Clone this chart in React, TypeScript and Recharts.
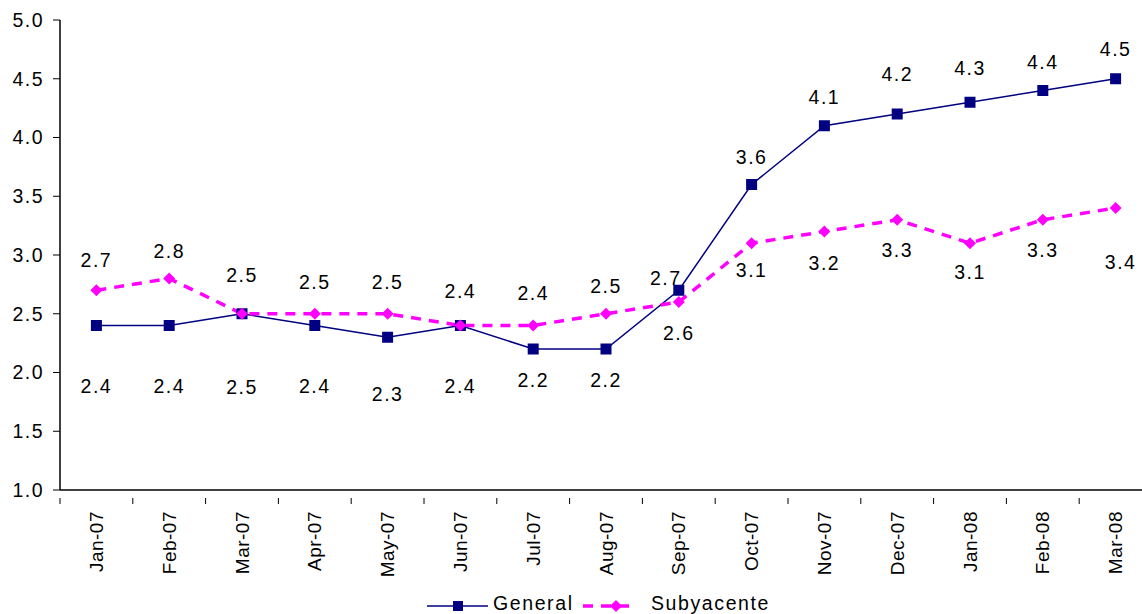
import React from 'react';
import { LineChart, Line, XAxis, YAxis, Legend, LabelList } from 'recharts';

const months = ['Jan-07', 'Feb-07', 'Mar-07', 'Apr-07', 'May-07', 'Jun-07', 'Jul-07', 'Aug-07', 'Sep-07', 'Oct-07', 'Nov-07', 'Dec-07', 'Jan-08', 'Feb-08', 'Mar-08'];
const general = [2.4, 2.4, 2.5, 2.4, 2.3, 2.4, 2.2, 2.2, 2.7, 3.6, 4.1, 4.2, 4.3, 4.4, 4.5];
const subyacente = [2.7, 2.8, 2.5, 2.5, 2.5, 2.4, 2.4, 2.5, 2.6, 3.1, 3.2, 3.3, 3.1, 3.3, 3.4];
const yTicks = [1.0, 1.5, 2.0, 2.5, 3.0, 3.5, 4.0, 4.5, 5.0];

// label offsets, as placed by hand in the original
const generalDy = [60, 60, 73, 60, 57, 60, 31, 31, -12, -28, -29, -40, -34, -29, -30];
const generalDx = [0, 0, 0, 0, 0, 0, 0, 0, -13, 0, 0, 0, 0, 0, 0];
const subDy = [-30, -28, -39, -32, -32, -35, -33, -28, 31, 27, 31, 30, 29, 30, 54];
const subDx = [0, 0, 0, 0, 0, 0, 0, 0, 0, 0, 0, 0, 0, 0, 5];

const NAVY = '#000080';
const PINK = '#FF00FF';
const FONT = 'Liberation Sans, Arial, sans-serif';

const data = months.map((m, i) => ({ month: m, general: general[i], subyacente: subyacente[i] }));

const CHART_W = 1160;
const PLOT_W = 1092;
const STEP = PLOT_W / months.length;

const SquareDot = (props: any) => {
  const { cx, cy } = props;
  if (cx == null || cy == null) return null;
  return <rect x={cx - 5.5} y={cy - 5.5} width={11} height={11} fill={NAVY} />;
};

const DiamondDot = (props: any) => {
  const { cx, cy } = props;
  if (cx == null || cy == null) return null;
  return <polygon points={`${cx},${cy - 6} ${cx + 6},${cy} ${cx},${cy + 6} ${cx - 6},${cy}`} fill={PINK} />;
};

const makeLabel = (dys: number[], dxs: number[]) => (props: any) => {
  const { x, y, value, index } = props;
  return (
    <text
      x={x + dxs[index]}
      y={y + dys[index]}
      textAnchor="middle"
      dominantBaseline="central"
      fontFamily={FONT}
      fontSize={19.5}
      letterSpacing={1.5}
      fill="#000"
    >
      {Number(value).toFixed(1)}
    </text>
  );
};

const MonthTick = (props: any) => {
  const { x, y, payload } = props;
  return (
    <g>
      <line x1={x - STEP / 2} y1={y} x2={x - STEP / 2} y2={y + 6} stroke="#000" />
      <text
        transform={`translate(${x}, ${y + 13}) rotate(-90)`}
        textAnchor="end"
        dominantBaseline="central"
        fontFamily={FONT}
        fontSize={19}
        letterSpacing={0.5}
        fill="#000"
      >
        {payload.value}
      </text>
    </g>
  );
};

const LegendContent = () => (
  <svg width={380} height={26} style={{ display: 'block', overflow: 'visible' }}>
    <line x1={0} y1={18} x2={61} y2={18} stroke={NAVY} strokeWidth={1.5} />
    <rect x={26} y={13} width={10} height={10} fill={NAVY} />
    <text x={66} y={22} fontFamily={FONT} fontSize={19.5} letterSpacing={1.6} fill="#000">General</text>
    <line x1={156} y1={18} x2={210} y2={18} stroke={PINK} strokeWidth={3.5} strokeDasharray="10 8" />
    <polygon points="189,12 195,18 189,24 183,18" fill={PINK} />
    <text x={224} y={22} fontFamily={FONT} fontSize={19.5} letterSpacing={1.6} fill="#000">Subyacente</text>
  </svg>
);

export default function App() {
  return (
    <div style={{ position: 'absolute', top: 0, left: 0, width: 1142, height: 614, overflow: 'hidden', background: '#fff' }}>
      <LineChart width={CHART_W} height={614} data={data} margin={{ top: 20, right: 8, left: 0, bottom: 0 }}>
        <XAxis
          dataKey="month"
          scale="band"
          interval={0}
          height={94}
          tickLine={false}
          axisLine={{ stroke: '#000', strokeWidth: 1.5 }}
          tick={<MonthTick />}
        />
        <YAxis
          width={60}
          domain={[1, 5]}
          ticks={yTicks}
          interval={0}
          tickSize={7}
          tickMargin={9}
          tickFormatter={(v: number) => v.toFixed(1)}
          axisLine={{ stroke: '#000', strokeWidth: 1.5 }}
          tickLine={{ stroke: '#000' }}
          tick={{ fill: '#000', fontSize: 19.5, fontFamily: FONT, letterSpacing: 1.5 }}
        />
        <Legend
          verticalAlign="bottom"
          content={<LegendContent />}
          wrapperStyle={{ left: 427, top: 588, bottom: 'auto', width: 380, height: 30 }}
        />
        <Line
          type="linear"
          dataKey="general"
          stroke={NAVY}
          strokeWidth={1.5}
          dot={<SquareDot />}
          activeDot={false}
          isAnimationActive={false}
        >
          <LabelList dataKey="general" content={makeLabel(generalDy, generalDx)} />
        </Line>
        <Line
          type="linear"
          dataKey="subyacente"
          stroke={PINK}
          strokeWidth={3.5}
          strokeDasharray="10 8"
          dot={<DiamondDot />}
          activeDot={false}
          isAnimationActive={false}
        >
          <LabelList dataKey="subyacente" content={makeLabel(subDy, subDx)} />
        </Line>
      </LineChart>
    </div>
  );
}
